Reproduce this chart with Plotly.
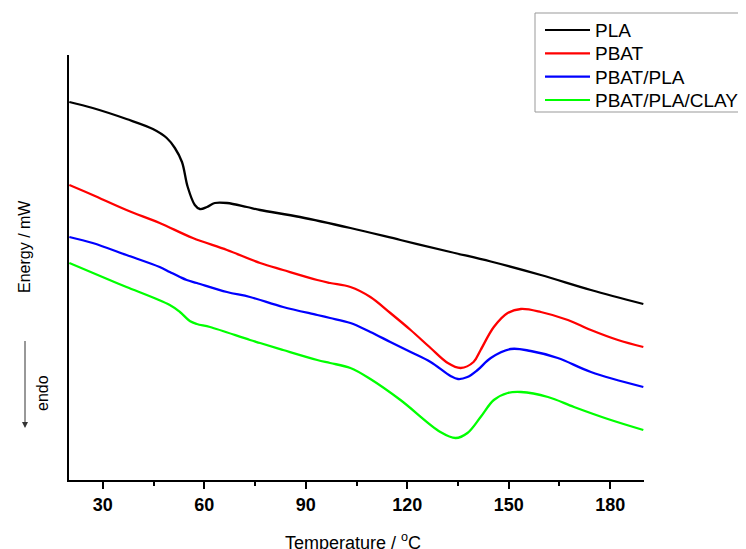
import plotly.graph_objects as go

# Temperature (°C) and energy (arbitrary mW offset units)
pla_T = [20.1, 27.0, 37.0, 44.8, 48.9, 51.3, 53.4, 55.1, 57.2, 58.7, 60.8, 63.1, 66.7, 72.6, 76.5,
         88.3, 103.2, 118.0, 132.8, 144.7, 159.5, 174.3, 189.8]
pla_E = [3.78, 3.72, 3.61, 3.51, 3.42, 3.32, 3.18, 2.93, 2.75, 2.71, 2.73, 2.77, 2.77, 2.73, 2.70,
         2.63, 2.52, 2.40, 2.28, 2.185, 2.05, 1.90, 1.76]

pbat_T = [20.1, 27.0, 37.0, 46.8, 56.6, 66.7, 76.5, 83.3, 93.4, 97.2, 103.2, 109.1, 115.0, 121.0,
          126.9, 132.0, 135.8, 139.6, 141.7, 145.6, 149.7, 153.6, 159.5, 167.5, 174.3, 182.3, 189.8]
pbat_E = [2.95, 2.85, 2.70, 2.57, 2.42, 2.30, 2.17, 2.10, 2.00, 1.97, 1.93, 1.83, 1.67, 1.50,
          1.32, 1.17, 1.12, 1.18, 1.30, 1.53, 1.67, 1.71, 1.68, 1.60, 1.50, 1.40, 1.33]

blend_T = [20.1, 27.0, 37.0, 46.8, 49.8, 52.8, 54.8, 57.8, 66.7, 73.5, 83.3, 93.4, 97.2, 103.2,
           109.1, 115.0, 121.0, 126.9, 132.8, 135.0, 137.8, 140.8, 144.7, 150.6, 156.5, 164.5,
           174.3, 189.8]
blend_E = [2.43, 2.37, 2.25, 2.13, 2.08, 2.03, 2.00, 1.97, 1.88, 1.83, 1.73, 1.65, 1.62, 1.57,
           1.48, 1.38, 1.28, 1.18, 1.04, 1.01, 1.03, 1.10, 1.22, 1.31, 1.29, 1.22,
           1.08, 0.93]

clay_T = [20.1, 32.0, 37.0, 49.8, 52.8, 55.7, 57.8, 61.7, 73.5, 76.5, 83.3, 93.4, 97.2, 103.2,
          109.1, 118.0, 129.8, 134.3, 137.8, 141.7, 145.6, 149.7, 153.6, 161.6, 169.3, 179.3, 189.8]
clay_E = [2.17, 2.00, 1.93, 1.75, 1.68, 1.59, 1.56, 1.53, 1.40, 1.37, 1.30, 1.20, 1.17, 1.12,
          1.01, 0.80, 0.48, 0.42, 0.47, 0.63, 0.80, 0.87, 0.88, 0.83, 0.73, 0.61, 0.50]

series_names = ["PLA", "PBAT", "PBAT/PLA", "PBAT/PLA/CLAY"]
series_colors = ["#000000", "#ff0000", "#0000ff", "#00ff00"]
x_ticks = [30, 60, 90, 120, 150, 180]

FONT = "Liberation Sans, Arial, sans-serif"

# plot area in page pixels (page has an 8px body margin)
PL, PR, PT, PB = 69, 644, 55, 480


def px(xp):
    return (xp - PL) / (PR - PL)


def py(yp):
    return (PB - yp) / (PB - PT)


fig = go.Figure()
for name, color, T, E in zip(series_names, series_colors,
                             [pla_T, pbat_T, blend_T, clay_T],
                             [pla_E, pbat_E, blend_E, clay_E]):
    fig.add_trace(go.Scatter(x=T, y=E, mode="lines", name=name, showlegend=False,
                             line=dict(color=color, width=2.3, shape="spline", smoothing=1.0)))

shapes = [dict(type="rect", xref="paper", yref="paper", x0=px(535), x1=px(770),
               y0=py(112), y1=py(13), line=dict(color="#999", width=1), fillcolor="white",
               layer="above")]
annotations = []
row_y = [30, 53.3, 76.7, 100]
for name, color, ry in zip(series_names, series_colors, row_y):
    shapes.append(dict(type="line", xref="paper", yref="paper", x0=px(545), x1=px(590),
                       y0=py(ry), y1=py(ry), line=dict(color=color, width=2.2), layer="above"))
    annotations.append(dict(text=name, xref="paper", yref="paper", x=px(593), y=py(ry + 0.5),
                            xanchor="left", yanchor="middle", showarrow=False,
                            font=dict(size=19, family=FONT)))

annotations += [
    dict(text="Temperature / <sup>o</sup>C", xref="paper", yref="paper", x=px(353), y=py(541),
         xanchor="center", yanchor="middle", showarrow=False,
         font=dict(size=18, family=FONT)),
    dict(text="Energy / mW", xref="paper", yref="paper", x=px(24), y=py(247),
         xanchor="center", yanchor="middle", textangle=-90, showarrow=False,
         font=dict(size=16, family=FONT)),
    dict(text="endo", xref="paper", yref="paper", x=px(42), y=py(393),
         xanchor="center", yanchor="middle", textangle=-90, showarrow=False,
         font=dict(size=16, family=FONT)),
    dict(text=" ", xref="paper", yref="paper", x=px(25), y=py(428),
         showarrow=True, ax=0, ay=-94, arrowhead=2, arrowsize=1.2, arrowwidth=1,
         arrowcolor="#333", font=dict(size=10)),
]

fig.update_layout(
    width=746, height=549, autosize=False,
    margin=dict(l=PL - 8, r=746 + 8 - PR, t=PT - 8, b=549 + 8 - PB),
    paper_bgcolor="white", plot_bgcolor="white",
    font=dict(family=FONT, color="#000"),
    showlegend=False,
    xaxis=dict(range=[20, 190], tickvals=x_ticks, ticks="outside", ticklen=7, tickwidth=1.5,
               tickcolor="#000", showline=True, linewidth=2, linecolor="#000",
               showgrid=False, zeroline=False,
               tickfont=dict(size=18, family=FONT, weight="bold"),
               minor=dict(dtick=15, tick0=15, ticks="outside", ticklen=4, tickwidth=1.5,
                          tickcolor="#000", showgrid=False)),
    yaxis=dict(range=[0, 4.25], showticklabels=False, ticks="", showline=True, linewidth=2,
               linecolor="#000", showgrid=False, zeroline=False),
    shapes=shapes,
    annotations=annotations,
)

fig.write_html("out.html")
